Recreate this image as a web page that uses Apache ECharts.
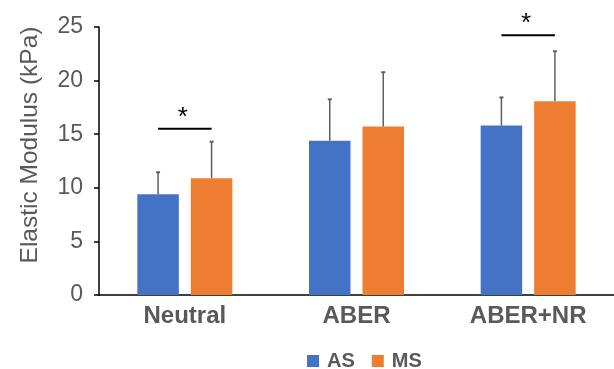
<!DOCTYPE html>
<html>
<head>
<meta charset="utf-8">
<script src="https://cdn.jsdelivr.net/npm/echarts@6/dist/echarts.min.js"></script>
<style>html,body{margin:0;padding:0;background:#fff}#c{width:614px;height:369px}</style>
</head>
<body>
<div id="c"></div>
<script>
var categories = ['Neutral', 'ABER', 'ABER+NR'];
var seriesNames = ['AS', 'MS'];
var asMean = [9.4, 14.4, 15.8];
var msMean = [10.9, 15.72, 18.08];
var asSD = [2.05, 3.85, 2.63];
var msSD = [3.4, 5.06, 4.66];
var sigLines = [[0, 15.52], [2, 24.23]];
var yTicks = { min: 0, max: 25, interval: 5 };

var FONT = "'Liberation Sans', Arial, sans-serif";
var BAR_W = 41.5, BAR_GAP = 12;
var HALF = (BAR_W + BAR_GAP) / 2;

function errData(mean, sd) {
  return mean.map(function (m, i) { return [i, m, m + sd[i]]; });
}
function errRender(offset) {
  return function (params, api) {
    var x = api.value(0);
    var lo = api.coord([x, api.value(1)]);
    var hi = api.coord([x, api.value(2)]);
    var cx = lo[0] + offset;
    var st = { stroke: '#5f5f5f', lineWidth: 1.5 };
    return {
      type: 'group',
      children: [
        { type: 'line', shape: { x1: cx, y1: lo[1], x2: cx, y2: hi[1] }, style: st },
        { type: 'line', shape: { x1: cx - 2, y1: hi[1], x2: cx + 2, y2: hi[1] }, style: { stroke: '#5f5f5f', lineWidth: 2 } }
      ]
    };
  };
}

var chart = echarts.init(document.getElementById('c'), null, { renderer: 'canvas' });
chart.setOption({
  animation: false,
  backgroundColor: '#fff',
  grid: { left: 99, right: -3, top: 27, bottom: 74, containLabel: false },
  legend: {
    data: seriesNames,
    left: 302, top: 346,
    icon: 'rect', itemWidth: 12, itemHeight: 12, itemGap: 17,
    textStyle: { fontFamily: FONT, fontSize: 20, fontWeight: 'bold', color: '#595959', padding: [0, 0, 0, 3] }
  },
  xAxis: {
    type: 'category',
    data: categories,
    axisLine: { lineStyle: { color: '#000', width: 1.5 } },
    axisTick: { show: false },
    axisLabel: { fontFamily: FONT, fontSize: 24, fontWeight: 'bold', color: '#595959', margin: 9 }
  },
  yAxis: {
    type: 'value',
    min: yTicks.min, max: yTicks.max, interval: yTicks.interval,
    name: 'Elastic Modulus (kPa)',
    nameLocation: 'middle',
    nameGap: 56,
    nameTextStyle: { fontFamily: FONT, fontSize: 24.5, color: '#595959', padding: [0, 0, 0, 32] },
    axisLine: { show: true, lineStyle: { color: '#000', width: 1.5 } },
    axisTick: { show: true, length: 5, lineStyle: { color: '#000', width: 1.5 } },
    splitLine: { show: false },
    axisLabel: { fontFamily: FONT, fontSize: 23, color: '#595959', margin: 16 }
  },
  series: [
    { name: 'AS', type: 'bar', data: asMean, barWidth: BAR_W, barGap: (BAR_GAP / BAR_W * 100) + '%', itemStyle: { color: '#4472C4' } },
    { name: 'MS', type: 'bar', data: msMean, barWidth: BAR_W, itemStyle: { color: '#ED7D31' } },
    { name: 'AS err', type: 'custom', data: errData(asMean, asSD), renderItem: errRender(-HALF), z: 5 },
    { name: 'MS err', type: 'custom', data: errData(msMean, msSD), renderItem: errRender(HALF), z: 5 },
    {
      name: 'sig', type: 'custom', data: sigLines, z: 5,
      renderItem: function (params, api) {
        var p = api.coord([api.value(0), api.value(1)]);
        return {
          type: 'group',
          children: [
            { type: 'line', shape: { x1: p[0] - HALF, y1: p[1], x2: p[0] + HALF, y2: p[1] }, style: { stroke: '#000', lineWidth: 2 } },
            { type: 'text', x: p[0] - 2, y: p[1] - 11, style: { text: '*', fontFamily: FONT, fontSize: 26, fill: '#000', align: 'center', verticalAlign: 'middle' } }
          ]
        };
      }
    }
  ]
});
</script>
</body>
</html>
